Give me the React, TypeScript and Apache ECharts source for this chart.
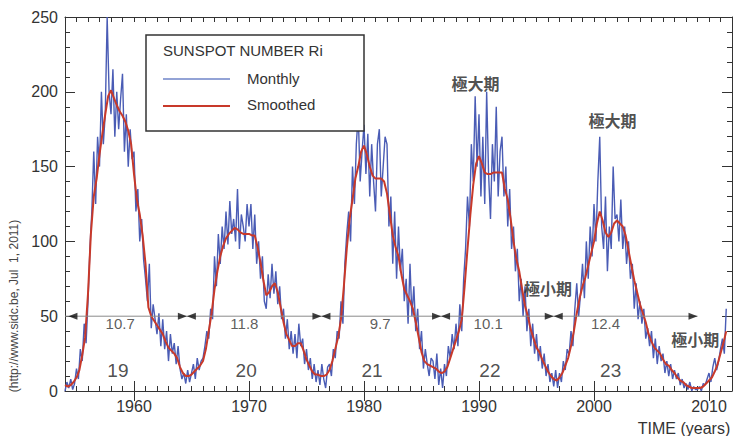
import React, { useEffect, useRef } from "react";
import * as echarts from "echarts";

// time axes of the samples
const MONTHLY_START = 1954;
const MONTHLY_STEP = 1 / 6; // bimonthly samples of the monthly series
const SMOOTH_START = 1954;
const SMOOTH_STEP = 0.25; // quarterly samples of the smoothed series

// Monthly sunspot number (sampled every two months), 1954.0 .. 2011.5
const monthly = [
  0, 6, 2, 8, 1, 5, // 1954
  15, 8, 28, 20, 45, 32,
  60, 95, 120, 160, 125, 170,
  150, 200, 165, 185, 250, 200,
  185, 215, 170, 200, 175, 195,
  212, 160, 185, 150, 175, 155,
  160, 120, 135, 100, 115, 88, // 1960
  75, 60, 85, 42, 58, 48,
  38, 52, 30, 48, 28, 40,
  20, 38, 25, 32, 18, 30,
  15, 8, 12, 5, 14, 6,
  12, 18, 8, 22, 14, 20,
  22, 30, 40, 35, 55, 48,
  90, 70, 105, 85, 110, 95,
  120, 98, 127, 105, 115, 100,
  135, 95, 118, 110, 100, 125,
  110, 125, 95, 118, 85, 100, // 1970
  75, 90, 60, 55, 78, 62,
  85, 65, 80, 58, 70, 48,
  55, 35, 48, 28, 40, 25,
  38, 22, 45, 30, 35, 18,
  28, 14, 22, 8, 18, 6,
  14, 4, 18, 8, 2, 16,
  18, 10, 28, 22, 40, 35,
  60, 45, 85, 105, 120, 100,
  150, 125, 165, 185, 140, 160,
  178, 145, 172, 130, 165, 140, // 1980
  120, 165, 175, 130, 150, 170,
  165, 110, 130, 85, 120, 75,
  110, 80, 95, 60, 75, 45,
  85, 50, 70, 40, 55, 28,
  40, 15, 28, 18, 10, 22,
  20, 8, 25, 4, 15, 2,
  18, 10, 30, 22, 38, 28,
  45, 30, 58, 40, 75, 95,
  130, 110, 165, 140, 197, 150,
  185, 130, 170, 125, 200, 145, // 1990
  115, 165, 140, 190, 130, 160,
  170, 130, 150, 110, 135, 95,
  110, 80, 95, 60, 75, 50,
  70, 40, 55, 30, 45, 25,
  38, 20, 30, 15, 25, 10,
  18, 6, 12, 3, 14, 2,
  12, 6, 20, 14, 28, 24,
  40, 30, 55, 72, 50, 65,
  85, 62, 100, 75, 110, 90,
  125, 100, 140, 170, 110, 95, // 2000
  130, 80, 110, 95, 150, 115,
  118, 100, 128, 95, 110, 85,
  100, 75, 85, 55, 72, 48,
  60, 45, 55, 35, 42, 30,
  40, 22, 35, 18, 30, 20,
  25, 12, 20, 10, 18, 8,
  14, 8, 12, 4, 8, 2,
  5, 1, 6, 0, 3, 1,
  1, 3, 0, 5, 4, 8,
  12, 6, 16, 22, 14, 20, // 2010
  28, 35, 25, 55,
];

// 13-month smoothed sunspot number (sampled each quarter)
const smoothed = [
  4, 3, 4, 6, // 1954
  9, 14, 24, 36,
  65, 105, 130, 142,
  158, 172, 185, 197,
  201, 196, 191, 187,
  184, 180, 174, 165,
  145, 128, 118, 104, // 1960
  85, 56, 50, 47,
  44, 41, 38, 33,
  29, 27, 25, 22,
  16, 12, 10, 10,
  11, 13, 15, 17,
  20, 28, 40, 52,
  68, 80, 90, 97,
  102, 105, 107, 109,
  108, 106, 105, 105,
  105, 104, 104, 96, // 1970
  86, 74, 64, 66,
  70, 72, 66, 56,
  46, 38, 34, 30,
  30, 32, 32, 27,
  21, 17, 13, 11,
  11, 10, 10, 11,
  14, 20, 28, 36,
  48, 70, 95, 115,
  128, 142, 150, 160,
  164, 158, 150, 144, // 1980
  142, 142, 142, 140,
  132, 118, 104, 96,
  90, 78, 68, 64,
  60, 55, 46, 36,
  26, 20, 18, 17,
  16, 15, 13, 12,
  13, 16, 22, 28,
  34, 40, 48, 70,
  95, 118, 138, 152,
  157, 152, 146, 145, // 1990
  145, 146, 146, 146,
  146, 135, 128, 115,
  100, 88, 80, 68,
  57, 50, 41, 35,
  29, 26, 21, 17,
  13, 10, 8, 7,
  9, 12, 17, 22,
  30, 40, 52, 62,
  70, 76, 84, 92,
  100, 112, 120, 114, // 2000
  106, 103, 106, 112,
  114, 112, 110, 104,
  94, 84, 74, 66,
  58, 52, 46, 38,
  33, 29, 27, 25,
  21, 18, 17, 14,
  12, 9, 7, 6,
  4, 3, 2, 2,
  2, 2, 3, 5,
  7, 9, 13, 18, // 2010
  25, 32, 40,
];

// cycle boundaries (minima) on the period line, and the period line level
const boundaries = [1954.3, 1964.6, 1976.3, 1986.7, 1996.5, 2009.0];
const periodLevel = 50;
const periodLabels = ["10.7", "11.8", "9.7", "10.1", "12.4"];
const periodLabelX = [1958.8, 1969.6, 1981.4, 1990.8, 2001.0];
const periodLabelY = 45;

const cycleNumbers = ["19", "20", "21", "22", "23"];
const cycleX = [1958.6, 1969.75, 1980.7, 1990.95, 2001.45];
const cycleY = 14;

const phaseTexts = ["極大期", "極大期", "極小期", "極小期"];
const phaseX = [1989.7, 2001.6, 1996.0, 2008.8];
const phaseY = [206, 181, 69, 35];

const decadeTicks = [1960, 1970, 1980, 1990, 2000, 2010];

const X_MIN = 1954;
const X_MAX = 2012;
const Y_MIN = 0;
const Y_MAX = 250;

const FONT = "'Liberation Sans', Arial, sans-serif";
const CJK = "'Noto Sans CJK JP', 'Noto Sans CJK SC', sans-serif";
const AXIS_COLOR = "#333";
const BLUE = "#4a5cb5";
const RED = "#c8392a";

export default function App() {
  const ref = useRef<HTMLDivElement>(null);

  useEffect(() => {
    if (!ref.current) return;
    const chart = echarts.init(ref.current, null, { renderer: "svg" });

    const tickLine = { lineStyle: { color: AXIS_COLOR, width: 1 } };
    const baseX = {
      type: "value",
      min: X_MIN,
      max: X_MAX,
      splitLine: { show: false },
      axisLine: { show: true, onZero: false, lineStyle: { color: AXIS_COLOR, width: 1 } },
    };

    const option: any = {
      animation: false,
      backgroundColor: "#fff",
      grid: { left: 65, right: 0, top: 17, bottom: 45, containLabel: false },
      xAxis: [
        {
          ...baseX,
          position: "bottom",
          interval: 1,
          axisTick: { show: true, inside: true, length: 5, ...tickLine },
          axisLabel: {
            show: true,
            fontSize: 16,
            fontFamily: FONT,
            color: "#333",
            margin: 7,
            formatter: (v: number) => (v % 10 === 0 ? String(v) : ""),
          },
        },
        {
          ...baseX,
          position: "bottom",
          axisLine: { show: false },
          axisTick: { show: true, inside: true, length: 10, customValues: decadeTicks, ...tickLine },
          axisLabel: { show: false },
        },
        {
          ...baseX,
          position: "top",
          interval: 1,
          axisTick: { show: true, inside: true, length: 5, ...tickLine },
          axisLabel: { show: false },
        },
        {
          ...baseX,
          position: "top",
          axisLine: { show: false },
          axisTick: { show: true, inside: true, length: 10, customValues: decadeTicks, ...tickLine },
          axisLabel: { show: false },
        },
      ],
      yAxis: [
        {
          type: "value",
          position: "left",
          min: Y_MIN,
          max: Y_MAX,
          interval: 50,
          splitLine: { show: false },
          axisLine: { show: true, onZero: false, lineStyle: { color: AXIS_COLOR, width: 1 } },
          axisTick: { show: true, inside: true, length: 10, ...tickLine },
          minorTick: { show: true, splitNumber: 5, length: 5, ...tickLine },
          axisLabel: { fontSize: 16, fontFamily: FONT, color: "#333", margin: 7 },
        },
        {
          type: "value",
          position: "right",
          min: Y_MIN,
          max: Y_MAX,
          interval: 50,
          splitLine: { show: false },
          axisLine: { show: true, onZero: false, lineStyle: { color: AXIS_COLOR, width: 1 } },
          axisTick: { show: true, inside: true, length: 10, ...tickLine },
          minorTick: { show: true, splitNumber: 5, length: 5, ...tickLine },
          axisLabel: { show: false },
        },
      ],
      series: [
        {
          name: "Monthly",
          type: "line",
          xAxisIndex: 0,
          yAxisIndex: 0,
          data: monthly.map((v, i) => [MONTHLY_START + i * MONTHLY_STEP, v]),
          showSymbol: false,
          symbol: "none",
          lineStyle: { color: BLUE, width: 1.4 },
          clip: true,
          z: 2,
          silent: true,
        },
        {
          name: "Smoothed",
          type: "line",
          xAxisIndex: 0,
          yAxisIndex: 0,
          data: smoothed.map((v, i) => [SMOOTH_START + i * SMOOTH_STEP, v]),
          showSymbol: false,
          symbol: "none",
          lineStyle: { color: RED, width: 2 },
          clip: true,
          z: 3,
          silent: true,
        },
        {
          name: "period",
          type: "line",
          xAxisIndex: 0,
          yAxisIndex: 0,
          data: [
            [X_MIN, periodLevel],
            [boundaries[boundaries.length - 1], periodLevel],
          ],
          showSymbol: false,
          symbol: "none",
          lineStyle: { color: "#8a8a8a", width: 1 },
          z: 4,
          silent: true,
        },
        {
          name: "arrowRight",
          type: "scatter",
          xAxisIndex: 0,
          yAxisIndex: 0,
          data: boundaries.slice(1).map((b) => [b, periodLevel]),
          symbol: "path://M0,0L10,5L0,10Z",
          symbolSize: [9, 7],
          symbolOffset: [-4.5, 0],
          itemStyle: { color: "#111" },
          z: 5,
          silent: true,
        },
        {
          name: "arrowLeft",
          type: "scatter",
          xAxisIndex: 0,
          yAxisIndex: 0,
          data: boundaries.slice(0, -1).map((b) => [b, periodLevel]),
          symbol: "path://M10,0L0,5L10,10Z",
          symbolSize: [9, 7],
          symbolOffset: [4.5, 0],
          itemStyle: { color: "#111" },
          z: 5,
          silent: true,
        },
        {
          name: "periodText",
          type: "scatter",
          xAxisIndex: 0,
          yAxisIndex: 0,
          data: periodLabels.map((t, i) => ({ name: t, value: [periodLabelX[i], periodLabelY] })),
          symbolSize: 1,
          itemStyle: { color: "rgba(0,0,0,0)" },
          label: {
            show: true,
            position: "inside",
            formatter: "{b}",
            fontSize: 15,
            fontFamily: FONT,
            color: "#333",
          },
          z: 6,
          silent: true,
        },
        {
          name: "cycleText",
          type: "scatter",
          xAxisIndex: 0,
          yAxisIndex: 0,
          data: cycleNumbers.map((t, i) => ({ name: t, value: [cycleX[i], cycleY] })),
          symbolSize: 1,
          itemStyle: { color: "rgba(0,0,0,0)" },
          label: {
            show: true,
            position: "inside",
            formatter: "{b}",
            fontSize: 19,
            fontFamily: FONT,
            color: "#222",
          },
          z: 6,
          silent: true,
        },
        {
          name: "phaseText",
          type: "scatter",
          xAxisIndex: 0,
          yAxisIndex: 0,
          data: phaseTexts.map((t, i) => ({ name: t, value: [phaseX[i], phaseY[i]] })),
          symbolSize: 1,
          itemStyle: { color: "rgba(0,0,0,0)" },
          label: {
            show: true,
            position: "inside",
            formatter: "{b}",
            fontSize: 16,
            fontWeight: "bold",
            fontFamily: CJK,
            color: "#222",
          },
          z: 6,
          silent: true,
        },
      ],
      graphic: [
        {
          type: "rect",
          z: 100,
          shape: { x: 146, y: 35, width: 218, height: 96 },
          style: { fill: "#fff", stroke: "#333", lineWidth: 1.5 },
          silent: true,
        },
        {
          type: "text",
          z: 101,
          x: 163,
          y: 50,
          style: {
            text: "SUNSPOT NUMBER Ri",
            fontSize: 15,
            fontFamily: FONT,
            fill: "#333",
            textAlign: "left",
            textVerticalAlign: "middle",
            verticalAlign: "middle",
          },
          silent: true,
        },
        {
          type: "line",
          z: 101,
          shape: { x1: 163, y1: 79, x2: 230, y2: 79 },
          style: { stroke: "#6f84c8", lineWidth: 1.5 },
          silent: true,
        },
        {
          type: "text",
          z: 101,
          x: 247,
          y: 78,
          style: {
            text: "Monthly",
            fontSize: 15,
            fontFamily: FONT,
            fill: "#333",
            textAlign: "left",
            textVerticalAlign: "middle",
            verticalAlign: "middle",
          },
          silent: true,
        },
        {
          type: "line",
          z: 101,
          shape: { x1: 163, y1: 106, x2: 230, y2: 106 },
          style: { stroke: RED, lineWidth: 2 },
          silent: true,
        },
        {
          type: "text",
          z: 101,
          x: 247,
          y: 104,
          style: {
            text: "Smoothed",
            fontSize: 15,
            fontFamily: FONT,
            fill: "#333",
            textAlign: "left",
            textVerticalAlign: "middle",
            verticalAlign: "middle",
          },
          silent: true,
        },
        {
          type: "text",
          z: 101,
          x: 14,
          y: 306,
          rotation: Math.PI / 2,
          style: {
            text: "(http://www.sidc.be, Jul  1, 2011)",
            fontSize: 12,
            fontFamily: FONT,
            fill: "#444",
            textAlign: "center",
            textVerticalAlign: "middle",
            verticalAlign: "middle",
          },
          silent: true,
        },
        {
          type: "text",
          z: 101,
          x: 684,
          y: 428,
          style: {
            text: "TIME (years)",
            fontSize: 16,
            fontFamily: FONT,
            fill: "#333",
            textAlign: "center",
            textVerticalAlign: "middle",
            verticalAlign: "middle",
          },
          silent: true,
        },
      ],
    };

    chart.setOption(option);
    return () => chart.dispose();
  }, []);

  return (
    <div
      ref={ref}
      style={{ position: "fixed", left: 0, top: 0, width: 735, height: 436, background: "#fff" }}
    />
  );
}
